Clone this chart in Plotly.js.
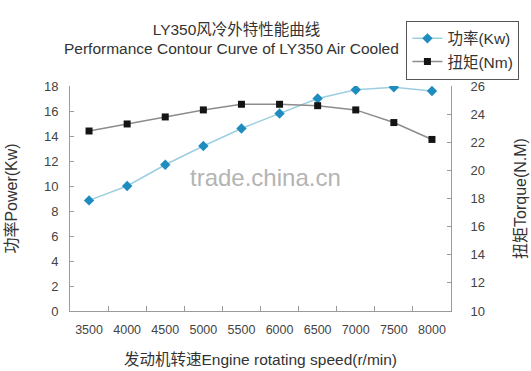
<!DOCTYPE html>
<html>
<head>
<meta charset="utf-8">
<script src="https://cdn.plot.ly/plotly-3.0.1.min.js"></script>
<style>html,body{margin:0;padding:0;background:#fff;}#chart{width:531px;height:371px;}</style>
</head>
<body>
<div id="chart"></div>
<script>
const speeds = ['3500','4000','4500','5000','5500','6000','6500','7000','7500','8000'];
const power = [8.85, 10.0, 11.7, 13.2, 14.6, 15.8, 17.0, 17.7, 17.9, 17.6];
const torque = [22.8, 23.3, 23.8, 24.3, 24.7, 24.7, 24.6, 24.3, 23.4, 22.2];
const powerName = '功率(Kw)';
const torqueName = '扭矩(Nm)';
const titleLine1 = 'LY350风冷外特性能曲线';
const titleLine2 = 'Performance Contour Curve of LY350 Air Cooled';
const xTitle = '发动机转速Engine rotating speed(r/min)';
const yTitle = '功率Power(Kw)';
const y2Title = '扭矩Torque(N.M)';
const watermark = 'trade.china.cn';

const FONT = 'Liberation Sans, Arial, Noto Sans CJK SC, sans-serif';
const axisColor = '#9a9a9a';

const traces = [
  {
    x: speeds, y: power, name: powerName, type: 'scatter', mode: 'lines+markers',
    yaxis: 'y',
    line: {color: '#9ccfe0', width: 1.5},
    marker: {symbol: 'diamond', size: 8, color: '#1f8cc0'}
  },
  {
    x: speeds, y: torque, name: torqueName, type: 'scatter', mode: 'lines+markers',
    yaxis: 'y2',
    line: {color: '#8c8c8c', width: 1.5},
    marker: {symbol: 'square', size: 7, color: '#141414'}
  }
];

const common = {
  showline: true, linecolor: axisColor, linewidth: 1,
  ticks: 'inside', tickcolor: axisColor, ticklen: 4,
  showgrid: false, zeroline: false,
  tickfont: {family: FONT, size: 13, color: '#444'},
  fixedrange: true
};

const layout = {
  width: 531, height: 371,
  margin: {l: 70, r: 78, t: 86, b: 60},
  paper_bgcolor: '#fff', plot_bgcolor: '#fff',
  font: {family: FONT, color: '#333'},
  showlegend: true,
  title: {
    text: titleLine1,
    font: {family: FONT, size: 15.5, color: '#333'},
    x: 0.437, xanchor: 'center', xref: 'paper',
    y: 0.921, yanchor: 'middle'
  },
  xaxis: Object.assign({}, common, {
    type: 'category', tickson: 'boundaries', range: [-0.5, 9.5], ticklen: 5,
    ticklabelstandoff: 7,
    tickfont: {family: FONT, size: 12.5, color: '#444'},
    title: {text: xTitle, font: {family: FONT, size: 15.5, color: '#333'}, standoff: 18}
  }),
  yaxis: Object.assign({}, common, {
    range: [0, 18], dtick: 2, ticklabelstandoff: 8,
    title: {text: yTitle, font: {family: FONT, size: 16, color: '#333'}, standoff: 22}
  }),
  yaxis2: Object.assign({}, common, {
    range: [10, 26], dtick: 2, overlaying: 'y', side: 'right', ticklabelstandoff: 16,
    title: {text: y2Title, font: {family: FONT, size: 16, color: '#333'}, standoff: 30}
  }),
  legend: {
    x: 0.883, xanchor: 'left', y: 1.29, yanchor: 'top',
    bgcolor: '#fff', bordercolor: '#555', borderwidth: 1,
    font: {family: FONT, size: 15.5, color: '#333'},
    itemwidth: 30, tracegroupgap: 0
  },
  annotations: [
    {text: titleLine2, xref: 'paper', yref: 'paper',
     x: (232 - 70) / 383, y: (311 - 48) / 225,
     xanchor: 'center', yanchor: 'middle', showarrow: false,
     font: {family: FONT, size: 15.5, color: '#333'}},
    {text: watermark, xref: 'paper', yref: 'paper', x: 0.512, y: 0.595,
     xanchor: 'center', yanchor: 'middle', showarrow: false,
     font: {family: FONT, size: 24, color: '#b4b4b4'}}
  ]
};

Plotly.newPlot('chart', traces, layout, {displayModeBar: false, staticPlot: true});
</script>
</body>
</html>
